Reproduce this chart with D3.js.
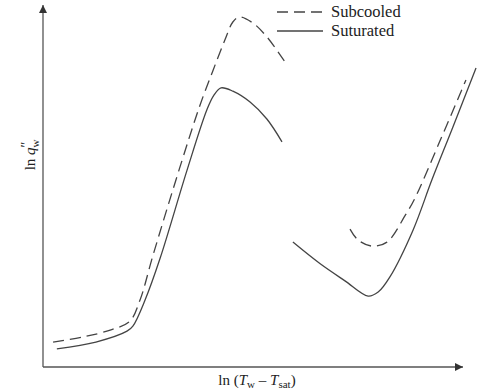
<!DOCTYPE html>
<html>
<head>
<meta charset="utf-8">
<script src="https://cdn.jsdelivr.net/npm/d3@7"></script>
<style>
  body { margin: 0; background: #fff; }
  svg text { font-family: "Liberation Serif", "DejaVu Serif", serif; fill: #222; }
</style>
</head>
<body>
<div id="chart"></div>
<script>
// Curve points in arbitrary log units (x: ln(Tw - Tsat), y: ln q"w)
const saturatedLow = [
    [3.3, 5.0], [12.6, 6.9], [20.0, 9.9], [21.4, 11.3], [24.3, 18.5], [27.9, 30.1],
    [34.3, 54.4], [39.0, 71.0], [40.7, 75.1], [42.4, 77.1], [45.2, 76.2],
    [49.3, 73.2], [53.3, 68.5], [56.9, 62.2]
];
const saturatedHigh = [
    [59.5, 34.5], [66.0, 28.5], [71.9, 23.8], [77.4, 19.6], [79.8, 20.7],
    [82.6, 24.9], [88.1, 37.8], [92.6, 51.7], [97.6, 66.3], [103.1, 82.6]
];
const subcooledLow = [
    [2.4, 6.9], [9.5, 8.3], [16.0, 10.2], [20.7, 12.7], [23.1, 18.5], [26.2, 30.9],
    [32.6, 55.2], [37.4, 72.4], [40.5, 82.0], [43.3, 90.3], [45.2, 95.3],
    [46.7, 96.7], [50.0, 95.0], [53.3, 91.2], [57.6, 84.3]
];
const subcooledHigh = [
    [73.1, 38.1], [75.0, 35.1], [78.3, 33.4], [81.9, 34.5], [86.3, 42.0],
    [88.5, 46.5], [94.5, 62.4], [100.7, 79.3]
];
const legendLabels = ["Subcooled", "Suturated"];

const width = 492;
const height = 391;
const margin = { top: 5, right: 29, bottom: 24, left: 43 };
const ink = "#444";

const svg = d3.select("#chart")
    .append("svg")
    .attr("width", width)
    .attr("height", height);

const x = d3.scaleLinear()
    .domain([0, 100])
    .range([margin.left, width - margin.right]);

const y = d3.scaleLinear()
    .domain([0, 100])
    .range([height - margin.bottom, margin.top]);

// Arrow heads
const defs = svg.append("defs");
defs.append("marker")
    .attr("id", "arrow")
    .attr("viewBox", "0 0 10 10")
    .attr("refX", 10)
    .attr("refY", 5)
    .attr("markerWidth", 10)
    .attr("markerHeight", 8)
    .attr("markerUnits", "userSpaceOnUse")
    .attr("orient", "auto")
    .append("path")
    .attr("d", "M0,0 L10,5 L0,10 Z")
    .attr("fill", "#333");

// Axes (no ticks)
svg.append("line")
    .attr("x1", x(0)).attr("y1", y(0))
    .attr("x2", x(0)).attr("y2", y(100))
    .attr("stroke", "#555").attr("stroke-width", 1.3)
    .attr("marker-end", "url(#arrow)");

svg.append("line")
    .attr("x1", x(0)).attr("y1", y(0))
    .attr("x2", x(100)).attr("y2", y(0))
    .attr("stroke", "#555").attr("stroke-width", 1.3)
    .attr("marker-end", "url(#arrow)");

// Curves
const line = d3.line()
    .x(d => x(d[0]))
    .y(d => y(d[1]))
    .curve(d3.curveCatmullRom.alpha(0.5));

[saturatedLow, saturatedHigh].forEach(seg => {
    svg.append("path")
        .attr("d", line(seg))
        .attr("fill", "none")
        .attr("stroke", ink)
        .attr("stroke-width", 1.3);
});

[subcooledLow, subcooledHigh].forEach(seg => {
    svg.append("path")
        .attr("d", line(seg))
        .attr("fill", "none")
        .attr("stroke", ink)
        .attr("stroke-width", 1.3)
        .attr("stroke-dasharray", "11,6");
});

// Legend
const legend = svg.append("g").attr("transform", "translate(277,12)");
legendLabels.forEach((label, i) => {
    const g = legend.append("g").attr("transform", `translate(0,${i * 19})`);
    g.append("line")
        .attr("x1", 0).attr("x2", 46)
        .attr("stroke", ink)
        .attr("stroke-width", 1.3)
        .attr("stroke-dasharray", i === 0 ? "11,6" : null);
    g.append("text")
        .attr("x", 54)
        .attr("y", 5)
        .attr("font-size", 16.5)
        .text(label);
});

// Axis labels
const xLabel = svg.append("text")
    .attr("x", 257)
    .attr("y", 385)
    .attr("text-anchor", "middle")
    .attr("font-size", 15);
xLabel.append("tspan").text("ln (");
xLabel.append("tspan").attr("font-style", "italic").text("T");
xLabel.append("tspan").attr("font-size", 11).attr("dy", 3).text("w");
xLabel.append("tspan").attr("dy", -3).text(" \u2013 ");
xLabel.append("tspan").attr("font-style", "italic").text("T");
xLabel.append("tspan").attr("font-size", 11).attr("dy", 3).text("sat");
xLabel.append("tspan").attr("dy", -3).text(")");

const yLabel = svg.append("text")
    .attr("transform", "translate(35,155) rotate(-90)")
    .attr("text-anchor", "middle")
    .attr("font-size", 15);
yLabel.append("tspan").text("ln ");
yLabel.append("tspan").attr("font-style", "italic").text("q");
yLabel.append("tspan").attr("font-size", 14).attr("dy", -4).text("\u2033");
yLabel.append("tspan").attr("font-size", 11).attr("dy", 8).attr("dx", -6).text("w");
</script>
</body>
</html>
